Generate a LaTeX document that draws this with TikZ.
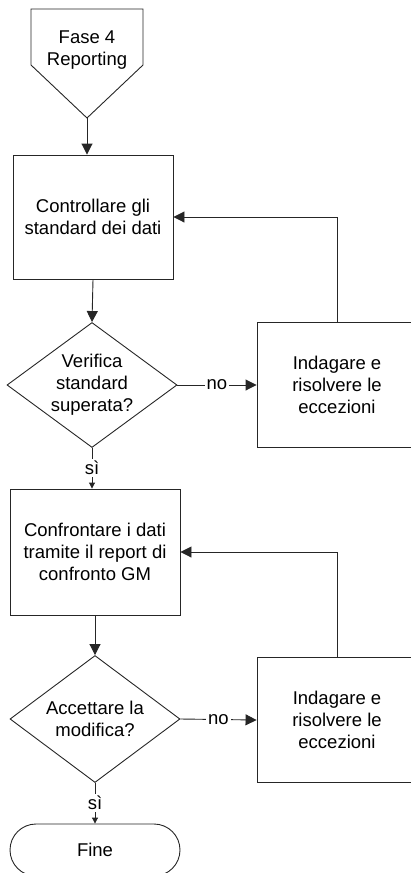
\documentclass[tikz,border=0pt]{standalone}
\usepackage{fontspec}
\setmainfont{Liberation Sans}
\usetikzlibrary{arrows.meta,shapes.geometric}
\begin{document}
\begin{tikzpicture}[x=1pt,y=-1pt,
  every node/.style={font=\fontsize{18.5}{22}\selectfont, align=center, text=black},
  line/.style={draw=black!85, line width=0.9pt},
  flow/.style={line, -{Triangle[length=11pt,width=11pt]}},
  smallflow/.style={line, -{Triangle[length=6pt,width=6pt]}},
  procbox/.style={draw=black!85, line width=0.9pt, rectangle, inner sep=0pt},
  decision/.style={draw=black!85, line width=0.9pt, diamond, inner sep=0pt, aspect=1.36,
                   minimum width=170pt, minimum height=125pt},
  tag/.style={fill=white, inner sep=2pt}
]
\useasboundingbox (0,0) rectangle (410,873);

% off-page connector at the top
\draw[line] (31,9) -- (143,9) -- (143,65) -- (87,118) -- (31,65) -- cycle;
\node (fase) at (87,50) {Fase 4\\Reporting};
\coordinate (tip) at (87,118);

% first check
\node[procbox, minimum width=160pt, minimum height=124pt] (check) at (93,217)
  {Controllare gli\\standard dei dati};
\node[decision] (pass) at (92,385) {Verifica\\standard\\superata?};
\node[procbox, minimum width=160pt, minimum height=125pt] (fix1) at (337,385)
  {Indagare e\\risolvere le\\eccezioni};

% second check
\node[procbox, minimum width=170pt, minimum height=126pt] (compare) at (95,552)
  {Confrontare i dati\\tramite il report di\\confronto GM};
\node[decision, minimum height=127pt] (accept) at (95,719) {Accettare la\\modifica?};
\node[procbox, minimum width=160pt, minimum height=125pt] (fix2) at (337,720)
  {Indagare e\\risolvere le\\eccezioni};

% end terminal
\node[draw=black!85, line width=0.9pt, rectangle, rounded corners=26pt,
      minimum width=170pt, minimum height=52pt] (fine) at (95,850) {Fine};

% connectors
\draw[flow] (tip) -- (tip |- check.north);
\draw[flow] (check.south) -- (pass.north);
\draw[flow] (pass.east) -- node[tag] {no} (fix1.west);
\draw[flow] (fix1.north) |- (check.east);
\draw[smallflow] (pass.south) -- node[tag] {sì} (pass.south |- compare.north);
\draw[flow] (compare.south) -- (accept.north);
\draw[flow] (accept.east) -- node[tag] {no} (fix2.west);
\draw[flow] (fix2.north) |- (compare.east);
\draw[smallflow] (accept.south) -- node[tag] {sì} (fine.north);
\end{tikzpicture}
\end{document}
